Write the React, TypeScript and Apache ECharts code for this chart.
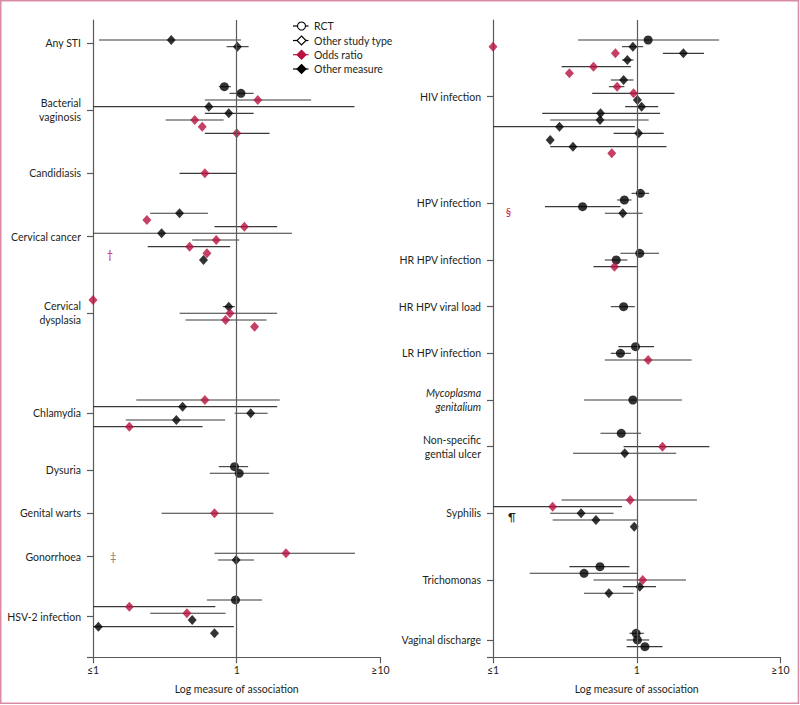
import React, { useEffect, useRef } from "react";
import * as echarts from "echarts";

const RED = "#b8103f";
const INK = "#231f20";
const AXIS = "#5a5a5a";
const FONT = "Lato";
const FS = 10.5;

// ---- Left panel ----
const leftCategories = ["Any STI", "Bacterial\nvaginosis", "Candidiasis", "Cervical cancer", "Cervical\ndysplasia", "Chlamydia", "Dysuria", "Genital warts", "Gonorrhoea", "HSV-2 infection"];
const leftCategoryRows = [6.5, 16.5, 26, 35.5, 47, 62, 70.5, 77, 83.5, 92.5];
const leftRows = [6, 7, 13, 14, 15, 16, 17, 18, 19, 20, 26, 32, 33, 34, 35, 36, 37, 38, 39, 45, 46, 47, 48, 49, 60, 61, 62, 63, 64, 70, 71, 77, 83, 84, 90, 91, 92, 93, 94, 95];
const leftEstimates = [0.35, 1.01, 0.82, 1.07, 1.4, 0.64, 0.88, 0.51, 0.575, 1.0, 0.6, 0.4, 0.237, 1.13, 0.3, 0.72, 0.47, 0.62, 0.587, 0.1, 0.88, 0.897, 0.836, 1.33, 0.6, 0.42, 1.25, 0.38, 0.179, 0.965, 1.04, 0.7, 2.2, 0.99, 0.98, 0.179, 0.45, 0.49, 0.109, 0.7];
const leftLower = [0.11, 0.85, 0.75, 0.89, 0.6, 0.1, 0.6, 0.32, null, 0.6, 0.4, 0.25, null, 0.7, 0.1, 0.49, 0.24, null, null, null, 0.8, 0.4, 0.44, null, 0.2, 0.1, 0.965, 0.169, 0.1, 0.75, 0.65, 0.3, 0.7, 0.74, 0.62, 0.1, 0.25, null, 0.1, null];
const leftUpper = [1.07, 1.21, 0.91, 1.31, 3.29, 6.59, 1.31, 0.81, null, 1.69, 1.0, 0.63, null, 1.91, 2.42, 1.04, 0.9, null, null, null, 0.97, 1.91, 1.61, null, 1.99, 1.91, 1.64, 0.83, 0.578, 1.2, 1.68, 1.8, 6.65, 1.32, 1.5, 0.71, 0.836, null, 0.955, null];
const leftKinds = ["other", "other", "rct", "rct", "or", "other", "other", "or", "or", "or", "or", "other", "or", "or", "other", "or", "or", "or", "other", "or", "other", "or", "or", "or", "or", "other", "other", "other", "or", "rct", "rct", "or", "or", "other", "rct", "or", "or", "other", "other", "other"];
const leftNotes = [[0.131, 38.25, "†", "#c0124a"], [0.138, 83.5, "‡", "#808080"]];

// ---- Right panel ----
const rightCategories = ["HIV infection", "HPV infection", "HR HPV infection", "HR HPV viral load", "LR HPV infection", "{i|Mycoplasma}\n{i|genitalium}", "Non-specific\ngential ulcer", "Syphilis", "Trichomonas", "Vaginal discharge"];
const rightCategoryRows = [14.5, 30.5, 39, 46, 53, 60, 67, 77, 87, 96];
const rightRows = [6, 7, 7, 8, 8, 9, 10, 11, 12, 13, 14, 15, 16, 17, 18, 19, 20, 21, 22, 23, 29, 30, 31, 32, 38, 39, 40, 46, 52, 53, 54, 60, 65, 67, 68, 75, 76, 77, 78, 79, 85, 86, 87, 88, 89, 95, 96, 97];
const rightEstimates = [1.2, 0.1, 0.94, 0.71, 2.11, 0.86, 0.5, 0.34, 0.81, 0.73, 0.95, 1.01, 1.08, 0.56, 0.555, 0.29, 1.03, 0.25, 0.36, 0.67, 1.06, 0.82, 0.42, 0.8, 1.05, 0.72, 0.7, 0.81, 0.98, 0.77, 1.2, 0.94, 0.78, 1.51, 0.825, 0.9, 0.26, 0.41, 0.52, 0.96, 0.555, 0.43, 1.1, 1.05, 0.64, 0.99, 1.01, 1.14];
const rightLower = [0.39, null, 0.79, null, 1.52, 0.79, 0.3, null, 0.66, 0.64, 0.49, null, 0.83, 0.22, 0.25, 0.1, 0.69, null, 0.25, null, 0.92, 0.73, 0.23, 0.6, 0.77, 0.6, 0.5, 0.66, 0.745, 0.66, 0.6, 0.43, 0.56, 0.81, 0.36, 0.3, 0.1, 0.25, 0.26, null, 0.34, 0.18, 0.5, 0.8, 0.43, 0.89, 0.85, 0.85];
const rightUpper = [3.74, null, 1.11, null, 2.94, 0.95, 0.91, null, 0.95, 0.82, 1.83, null, 1.41, 1.45, 1.21, 0.97, 1.54, null, 1.61, null, 1.22, 0.92, 0.77, 1.1, 1.43, 0.86, 1.0, 0.97, 1.32, 0.91, 2.41, 2.06, 1.07, 3.2, 1.88, 2.62, 0.79, 0.69, 1.02, null, 0.89, 1.01, 2.2, 1.36, 0.95, 1.12, 1.22, 1.51];
const rightKinds = ["rct", "or", "other", "or", "other", "other", "or", "or", "other", "or", "or", "other", "other", "other", "other", "other", "other", "other", "other", "or", "rct", "rct", "rct", "other", "rct", "rct", "or", "rct", "rct", "rct", "or", "rct", "rct", "or", "other", "or", "or", "other", "other", "other", "rct", "rct", "or", "other", "other", "rct", "rct", "rct"];
const rightNotes = [[0.128, 31.8, "§", "#c0124a"], [0.135, 77.55, "¶", "#231f20"]];

const xTickLabels = ["≤1", "1", "≥10"];
const legendLabels = ["RCT", "Other study type", "Odds ratio", "Other measure"];

const Y_MIN = 3;
const Y_MAX = 98.6;

function buildPanel(idx: number, categories: string[], catRows: number[], rows: number[], est: number[], lo: (number | null)[], hi: (number | null)[], kinds: string[], notes: any[]) {
  const ci: number[][] = [];
  rows.forEach((r, i) => {
    if (lo[i] != null && hi[i] != null) ci.push([lo[i] as number, hi[i] as number, r]);
  });
  const pts = (k: string) => rows.map((r, i) => (kinds[i] === k ? [est[i], r] : null)).filter((d) => d) as number[][];
  const xAxis = {
    gridIndex: idx,
    type: "log",
    logBase: 10,
    min: 0.1,
    max: 10,
    axisLine: { show: true, onZero: false, lineStyle: { color: AXIS, width: 1.2 } },
    axisTick: { show: true, length: 6, lineStyle: { color: AXIS, width: 1.2 } },
    minorTick: { show: false },
    splitLine: { show: false },
    axisLabel: {
      fontFamily: FONT,
      fontSize: FS,
      color: INK,
      margin: 7,
      formatter: (v: number) => (v < 0.5 ? xTickLabels[0] : v > 5 ? xTickLabels[2] : xTickLabels[1]),
    },
    name: "Log measure of association",
    nameLocation: "middle",
    nameGap: 26,
    nameTextStyle: { fontFamily: FONT, fontSize: FS, color: INK },
  };
  const yAxis = {
    gridIndex: idx,
    type: "value",
    inverse: true,
    min: Y_MIN,
    max: Y_MAX,
    splitLine: { show: false },
    axisLine: { show: true, onZero: false, lineStyle: { color: AXIS, width: 1.2 } },
    axisTick: { show: true, length: 6, customValues: [...catRows, Y_MAX], lineStyle: { color: AXIS, width: 1.2 } },
    axisLabel: {
      show: true,
      customValues: catRows,
      margin: 12,
      fontFamily: FONT,
      fontSize: FS,
      color: INK,
      lineHeight: 14,
      align: "right",
      rich: { i: { fontFamily: FONT, fontSize: FS, color: INK, fontStyle: "italic", lineHeight: 14 } },
      formatter: (v: number) => {
        const i = catRows.findIndex((r) => Math.abs(r - v) < 0.01);
        return i >= 0 ? categories[i] : "";
      },
    },
  };
  const series: any[] = [
    {
      type: "custom",
      xAxisIndex: idx,
      yAxisIndex: idx,
      data: ci,
      encode: { x: [0, 1], y: 2 },
      clip: false,
      z: 2,
      renderItem: (_p: any, api: any) => {
        const a = api.coord([api.value(0), api.value(2)]);
        const b = api.coord([api.value(1), api.value(2)]);
        return { type: "line", shape: { x1: a[0], y1: a[1], x2: b[0], y2: b[1] }, style: { stroke: "#3a3a3a", lineWidth: 1.1 } };
      },
      markLine: {
        silent: true,
        symbol: "none",
        label: { show: false },
        lineStyle: { color: AXIS, width: 1.2, type: "solid" },
        data: [{ xAxis: 1 }],
      },
    },
    { type: "scatter", xAxisIndex: idx, yAxisIndex: idx, data: pts("rct"), symbol: "circle", symbolSize: 9, itemStyle: { color: "#000" }, clip: false, z: 3 },
    { type: "scatter", xAxisIndex: idx, yAxisIndex: idx, data: pts("other"), symbol: "diamond", symbolSize: [9, 10], itemStyle: { color: "#000" }, clip: false, z: 3 },
    { type: "scatter", xAxisIndex: idx, yAxisIndex: idx, data: pts("or"), symbol: "diamond", symbolSize: [9, 10], itemStyle: { color: RED }, clip: false, z: 3 },
    {
      type: "custom",
      xAxisIndex: idx,
      yAxisIndex: idx,
      data: notes.map((n) => [n[0], n[1]]),
      encode: { x: 0, y: 1 },
      clip: false,
      z: 3,
      renderItem: (p: any, api: any) => {
        const c = api.coord([api.value(0), api.value(1)]);
        const n = notes[p.dataIndex];
        return {
          type: "text",
          x: c[0],
          y: c[1],
          style: { text: n[2], fill: n[3], fontFamily: FONT, fontSize: 11, align: "center", verticalAlign: "middle" },
        };
      },
    },
  ];
  return { xAxis, yAxis, series };
}

function legendGraphics() {
  const ys = [26, 40.5, 54.7, 69];
  const items: any[] = [];
  ys.forEach((y, i) => {
    const lineColor = i === 2 ? RED : "#000";
    items.push({ type: "line", shape: { x1: 293, y1: y, x2: 308.5, y2: y }, style: { stroke: lineColor, lineWidth: 1.2 } });
    const cx = 301.5;
    if (i === 0) {
      items.push({ type: "circle", shape: { cx, cy: y, r: 4 }, style: { fill: "#fff", stroke: "#000", lineWidth: 1.1 } });
    } else {
      const filled = i === 1 ? "#fff" : i === 2 ? RED : "#000";
      const stroke = i === 2 ? RED : "#000";
      items.push({
        type: "polygon",
        shape: { points: [[cx, y - 4.5], [cx + 4.5, y], [cx, y + 4.5], [cx - 4.5, y]] },
        style: { fill: filled, stroke, lineWidth: 1.1 },
      });
    }
    items.push({
      type: "text",
      x: 314,
      y,
      style: { text: legendLabels[i], fontFamily: FONT, fontSize: FS, fill: INK, verticalAlign: "middle", align: "left" },
    });
  });
  return items;
}

export default function App() {
  const ref = useRef<HTMLDivElement>(null);
  useEffect(() => {
    if (!ref.current) return;
    const chart = echarts.init(ref.current, undefined, { renderer: "svg" });
    const L = buildPanel(0, leftCategories, leftCategoryRows, leftRows, leftEstimates, leftLower, leftUpper, leftKinds, leftNotes);
    const R = buildPanel(1, rightCategories, rightCategoryRows, rightRows, rightEstimates, rightLower, rightUpper, rightKinds, rightNotes);
    chart.setOption({
      animation: false,
      backgroundColor: "#ffffff",
      textStyle: { fontFamily: FONT },
      grid: [
        { left: 93, top: 20, width: 287.5, bottom: 47.7 },
        { left: 493, top: 20, width: 287.5, bottom: 47.7 },
      ],
      xAxis: [L.xAxis, R.xAxis],
      yAxis: [L.yAxis, R.yAxis],
      series: [...L.series, ...R.series],
      graphic: [
        {
          type: "rect",
          shape: { x: 0.75, y: 0.75, width: 797.7, height: 702.6 },
          style: { fill: "none", stroke: "#d98ba4", lineWidth: 1.5 },
          silent: true,
        },
        ...legendGraphics(),
      ],
    });
    return () => chart.dispose();
  }, []);
  return <div ref={ref} style={{ position: "fixed", left: 0, top: 0, width: 800, height: 705 }} />;
}
